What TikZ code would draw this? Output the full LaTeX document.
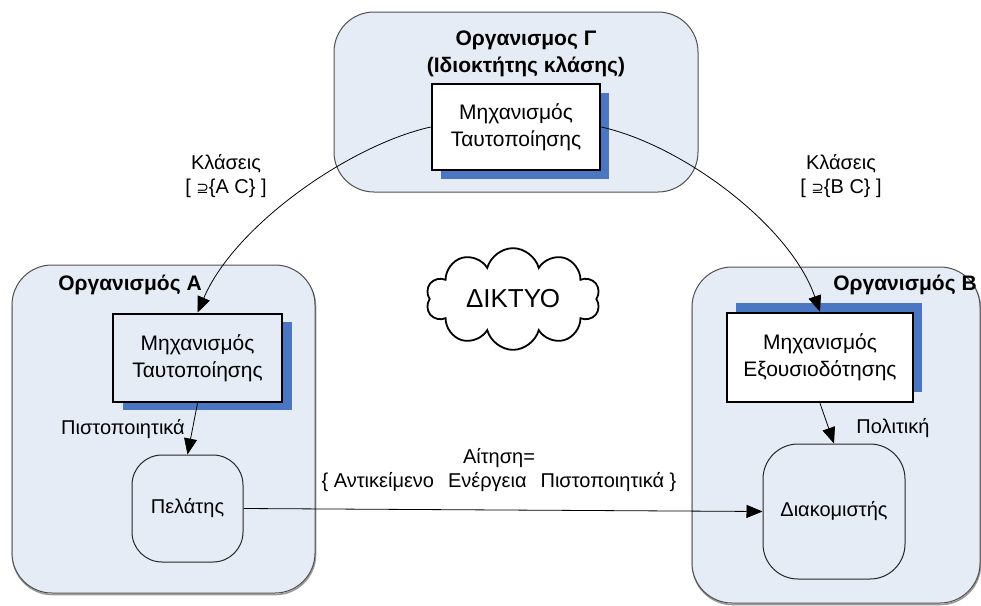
\documentclass[tikz,border=0pt]{standalone}
\usepackage{fontspec}
\setmainfont{Liberation Sans}
\newfontfamily\symfam{DejaVu Sans}
\usetikzlibrary{arrows.meta,shapes.symbols}

\definecolor{orgfill}{HTML}{E6ECF6}
\definecolor{orgline}{HTML}{505050}
\definecolor{shadowblue}{HTML}{4A76C2}

\begin{document}
\begin{tikzpicture}[x=1pt,y=-1pt,
  txt/.style={font=\fontsize{20}{24}\selectfont, align=center, inner sep=0pt},
  title/.style={txt, font=\fontsize{21}{27}\selectfont\bfseries},
  org/.style={draw=orgline, line width=1pt, fill=orgfill, rounded corners=40pt,
              rectangle, inner sep=0pt},
  orgshadow/.style={draw=gray!80, line width=1.6pt, rounded corners=40pt},
  mech/.style={draw=black, line width=2.6pt, rectangle, txt,
               font=\fontsize{21}{27}\selectfont},
  actor/.style={draw=black!85, line width=1pt, fill=orgfill, rectangle, txt,
                font=\fontsize{20}{24}\selectfont},
  arr/.style={draw=black, line width=0.8pt,
              -{Triangle[length=16pt,width=13pt]}},
  bluebox/.style={fill=shadowblue}
]
\useasboundingbox (0,0) rectangle (981,605);
\fill[white] (0,0) rectangle (981,605);

% soft grey edge under the organisation panels
\draw[orgshadow] (12.5,266.5) rectangle (315.5,594.5);
\draw[orgshadow] (692.5,268.5) rectangle (980.5,604.5);

% organisations
\node[org, minimum width=364pt, minimum height=180pt] (orgC) at (516,102) {};
\node[org, minimum width=303pt, minimum height=328pt] (orgA) at (163.5,429) {};
\node[org, minimum width=288pt, minimum height=336pt] (orgB) at (836,435) {};

\node[title] (titleC) at (526,54) {Οργανισμος Γ\\(Ιδιοκτήτης κλάσης)};
\node[title] (titleA) at (130,285) {Οργανισμός Α};
\node[title] (titleB) at (905,285) {Οργανισμός Β};

% blue offset plates behind the mechanism boxes
\fill[bluebox] (441,93) rectangle (609,179);
\fill[bluebox] (123,322) rectangle (292,410);
\fill[bluebox] (736,303) rectangle (922,392);

% mechanisms
\node[mech, fill=white, minimum width=168pt, minimum height=86pt] (mechC)
  at (516,127) {Μηχανισμός\\Ταυτοποίησης};
\node[mech, fill=orgfill, minimum width=169pt, minimum height=88pt] (mechA)
  at (197.5,358) {Μηχανισμός\\Ταυτοποίησης};
\node[mech, fill=white, minimum width=186pt, minimum height=89pt] (mechB)
  at (820,357.5) {Μηχανισμός\\Εξουσιοδότησης};

% client and server
\node[actor, rounded corners=30pt, minimum width=111pt, minimum height=107pt]
  (client) at (187.5,508.5) {Πελάτης};
\node[actor, rounded corners=35pt, minimum width=142pt, minimum height=135pt]
  (server) at (834,511.5) {Διακομιστής};

% network cloud
\node[cloud, draw=black, fill=white, line width=1.8pt, cloud puffs=10,
      aspect=1.8, minimum width=174pt, minimum height=100pt, inner sep=0pt,
      font=\fontsize{26}{28}\selectfont] (net) at (513,299) {ΔΙΚΤΥΟ};

% connectors
\draw[arr] (mechC.west) .. controls (350,145) and (235,225) .. (mechA.north);
\draw[arr] (mechC.east) .. controls (682,145) and (790,225) .. (mechB.north);
\draw[arr] (mechA.south) -- (client.north);
\draw[arr] (mechB.south) -- (server.north);
\draw[arr] (client.east) -- (server.west);

% connector labels
\node[txt] (lblAC) at (226,176) {Κλάσεις\\{}[ {\symfam\fontsize{15}{15}\selectfont ⊇}\{A C\} ]};
\node[txt] (lblBC) at (841,176) {Κλάσεις\\{}[ {\symfam\fontsize{15}{15}\selectfont ⊇}\{B C\} ]};
\node[txt] (lblCred) at (123,429) {Πιστοποιητικά};
\node[txt] (lblPol) at (893,428) {Πολιτική};
\node[txt] (lblReq) at (499,470)
  {Αίτηση=\\\{ Αντικείμενο\hspace{14pt}Ενέργεια\hspace{14pt}Πιστοποιητικά \}};
\end{tikzpicture}
\end{document}
